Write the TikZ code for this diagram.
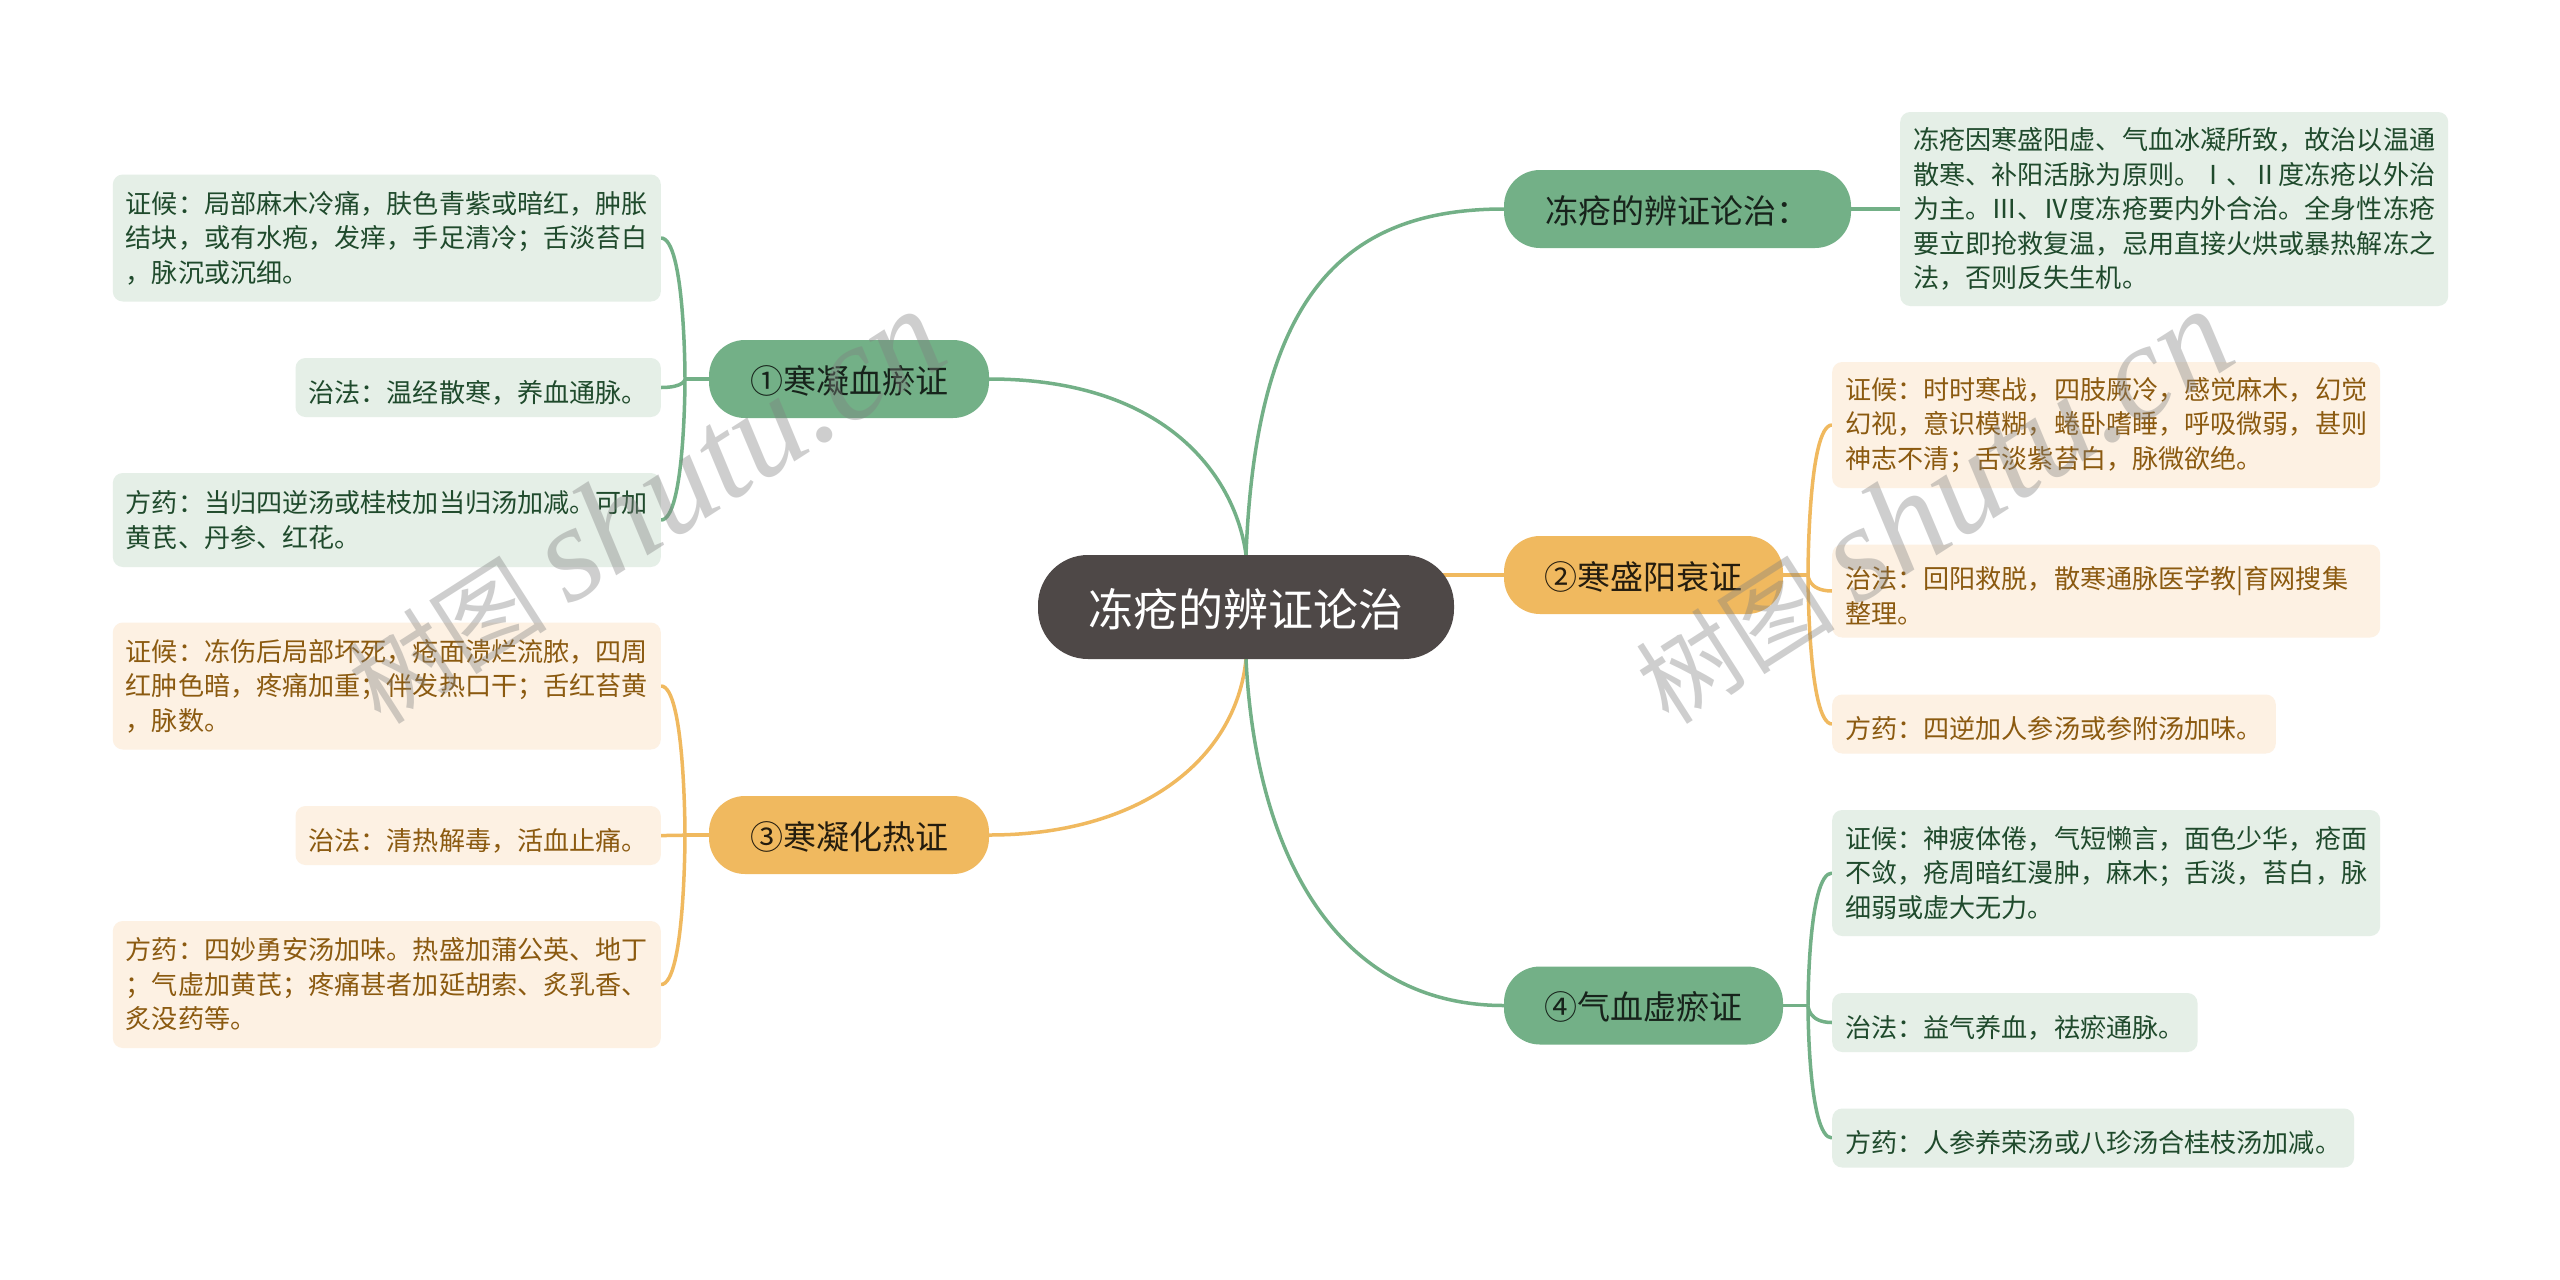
\documentclass[tikz,border=0pt]{standalone}
\usepackage{fontspec}
\setmainfont{Noto Sans CJK SC}
\newfontfamily\wmfont{Liberation Serif}
\usetikzlibrary{backgrounds}
\definecolor{rootfill}{HTML}{4E4847}
\definecolor{greenfill}{HTML}{73B087}
\definecolor{orangefill}{HTML}{F0B95F}
\definecolor{greenleaf}{HTML}{E5EFE7}
\definecolor{orangeleaf}{HTML}{FDF1E3}
\definecolor{greentext}{HTML}{1F4A2C}
\definecolor{orangetext}{HTML}{8B5A10}
\tikzset{
  hub/.style={rounded corners=36,minimum height=78,inner sep=0pt,text height=31,
    font=\fontsize{33}{40}\selectfont},
  greenhub/.style={hub,fill=greenfill,text=black!80!greenfill},
  orangehub/.style={hub,fill=orangefill,text=black!85!orangefill},
  leaf/.style={rounded corners=10,inner xsep=13,inner ysep=0pt,align=left,
    minimum height=#1,font=\fontsize{26.1}{34.5}\selectfont,
    execute at begin node={\rule{0pt}{32pt}}},
  gleaf/.style={leaf=#1,fill=greenleaf,text=greentext},
  oleaf/.style={leaf=#1,fill=orangeleaf,text=orangetext},
  gline/.style={draw=greenfill,line width=3.5pt},
  oline/.style={draw=orangefill,line width=3.5pt},
  wmark/.style={rotate=32.6,text=gray,opacity=.38,font=\fontsize{100}{130}\selectfont}
}

\begin{document}
\begin{tikzpicture}[x=1pt,y=-1pt]
  \useasboundingbox (0,0) rectangle (2560,1280);
  % centre and branches
  \node[rounded corners=50,fill=rootfill,text=white,minimum width=416,minimum height=104,
    text height=43,font=\fontsize{45}{52}\selectfont] (root) at (1246,607) {冻疮的辨证论治};
  \node[greenhub,minimum width=347] (top) at (1677.5,209) {冻疮的辨证论治：};
  \node[greenhub,minimum width=280] (n1) at (849,379) {①寒凝血瘀证};
  \node[orangehub,minimum width=279] (n2) at (1643.5,575) {②寒盛阳衰证};
  \node[orangehub,minimum width=280] (n3) at (849,835) {③寒凝化热证};
  \node[greenhub,minimum width=279] (n4) at (1643.5,1005.5) {④气血虚瘀证};
  % leaves, left side
  \node[gleaf=127,anchor=east] (a1) at (661,238) {证候：局部麻木冷痛，肤色青紫或暗红，肿胀\\结块，或有水疱，发痒，手足清冷；舌淡苔白\\，脉沉或沉细。};
  \node[gleaf=59,anchor=east] (a2) at (661,387.5) {治法：温经散寒，养血通脉。};
  \node[gleaf=94,anchor=east] (a3) at (661,520) {方药：当归四逆汤或桂枝加当归汤加减。可加\\黄芪、丹参、红花。};
  \node[oleaf=127,anchor=east] (b1) at (661,686) {证候：冻伤后局部坏死，疮面溃烂流脓，四周\\红肿色暗，疼痛加重；伴发热口干；舌红苔黄\\，脉数。};
  \node[oleaf=59,anchor=east] (b2) at (661,835.5) {治法：清热解毒，活血止痛。};
  \node[oleaf=127,anchor=east] (b3) at (661,984.5) {方药：四妙勇安汤加味。热盛加蒲公英、地丁\\；气虚加黄芪；疼痛甚者加延胡索、炙乳香、\\炙没药等。};
  % leaves, right side
  \node[gleaf=194,anchor=west] (t1) at (1900,209) {冻疮因寒盛阳虚、气血冰凝所致，故治以温通\\散寒、补阳活脉为原则。Ⅰ、Ⅱ度冻疮以外治\\为主。Ⅲ、Ⅳ度冻疮要内外合治。全身性冻疮\\要立即抢救复温，忌用直接火烘或暴热解冻之\\法，否则反失生机。};
  \node[oleaf=126,anchor=west] (c1) at (1832,425) {证候：时时寒战，四肢厥冷，感觉麻木，幻觉\\幻视，意识模糊，蜷卧嗜睡，呼吸微弱，甚则\\神志不清；舌淡紫苔白，脉微欲绝。};
  \node[oleaf=93,anchor=west,text width=522] (c2) at (1832,591) {治法：回阳救脱，散寒通脉医学教|育网搜集\\整理。};
  \node[oleaf=59,anchor=west] (c3) at (1832,724) {方药：四逆加人参汤或参附汤加味。};
  \node[gleaf=126,anchor=west] (d1) at (1832,873) {证候：神疲体倦，气短懒言，面色少华，疮面\\不敛，疮周暗红漫肿，麻木；舌淡，苔白，脉\\细弱或虚大无力。};
  \node[gleaf=59,anchor=west] (d2) at (1832,1022.5) {治法：益气养血，祛瘀通脉。};
  \node[gleaf=59,anchor=west] (d3) at (1832,1138) {方药：人参养荣汤或八珍汤合桂枝汤加减。};
  % spines
  \coordinate (s1) at (685,379);
  \coordinate (s2) at (1808,575);
  \coordinate (s3) at (685,835);
  \coordinate (s4) at (1808,1005.5);
  \begin{scope}[on background layer]
    \fill[white] (0,0) rectangle (2560,1280);
    \draw[gline] (root.north) .. controls (1256,300) and (1340,209) .. (top.west);
    \draw[gline] (root.north) .. controls (1236,480) and (1170,379) .. (n1.east);
    \draw[oline] (root.east |- n2.west) ++(-30,0) -- (n2.west);
    \draw[oline] (root.south) .. controls (1236,760) and (1140,835) .. (n3.east);
    \draw[gline] (root.south) .. controls (1256,860) and (1340,1005.5) .. (n4.west);
    \draw[gline] (top.east) -- (t1.west);
    \draw[gline] (n1.west) -- (s1);
    \foreach \leafname in {a1,a2,a3} \draw[gline] (s1) .. controls (s1) and (s1 |- \leafname.east) .. (\leafname.east);
    \draw[oline] (n2.east) -- (s2);
    \foreach \leafname in {c1,c2,c3} \draw[oline] (s2) .. controls (s2) and (s2 |- \leafname.west) .. (\leafname.west);
    \draw[oline] (n3.west) -- (s3);
    \foreach \leafname in {b1,b2,b3} \draw[oline] (s3) .. controls (s3) and (s3 |- \leafname.east) .. (\leafname.east);
    \draw[gline] (n4.east) -- (s4);
    \foreach \leafname in {d1,d2,d3} \draw[gline] (s4) .. controls (s4) and (s4 |- \leafname.west) .. (\leafname.west);
  \end{scope}
  % watermarks
  \node[wmark] (wm1) at (644,507) {树图 {\wmfont\fontsize{136}{130}\selectfont\itshape shutu.cn}};
  \node[wmark] (wm2) at (1932,507) {树图 {\wmfont\fontsize{136}{130}\selectfont\itshape shutu.cn}};
\end{tikzpicture}
\end{document}
